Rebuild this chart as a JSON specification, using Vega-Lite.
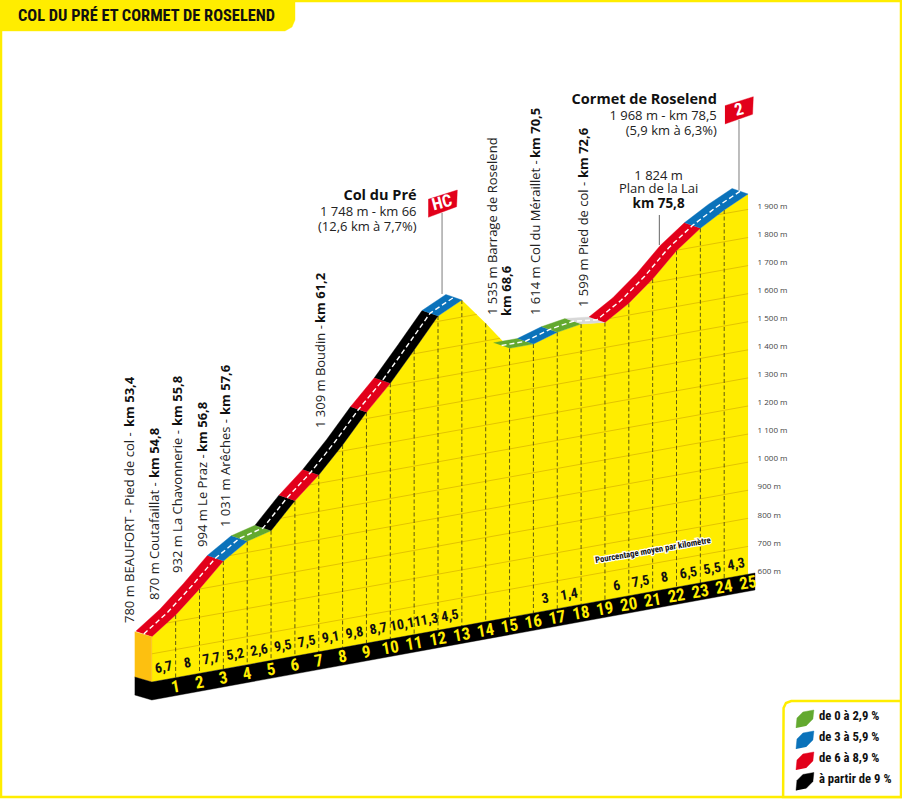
{"$schema":"https://vega.github.io/schema/vega-lite/v6.json","width":902,"height":800,"padding":0,"autosize":"none","background":"white","config":{"view":{"stroke":null}},
"datasets":{
"profil":[{"km":0,"alt":378.5,"base":217.2},{"km":1,"alt":455.8,"base":232.5},{"km":2,"alt":548.4,"base":247.8},{"km":3,"alt":648.1,"base":263.2},{"km":4,"alt":718.2,"base":278.5},{"km":5,"alt":756,"base":293.8},{"km":6,"alt":862.8,"base":309.1},{"km":7,"alt":954.3,"base":324.4},{"km":8,"alt":1061.2,"base":339.8},{"km":9,"alt":1177.6,"base":355.1},{"km":10,"alt":1280.9,"base":370.4},{"km":11,"alt":1399.4,"base":385.7},{"km":12,"alt":1520.5,"base":401},{"km":13,"alt":1577.5,"base":416.4},{"km":14,"alt":1494.5,"base":431.7},{"km":15,"alt":1405.5,"base":447},{"km":16,"alt":1420.8,"base":462.3},{"km":17,"alt":1462.5,"base":477.6},{"km":18,"alt":1492,"base":493},{"km":19,"alt":1497.4,"base":508.3},{"km":20,"alt":1565.8,"base":523.6},{"km":21,"alt":1652.3,"base":538.9},{"km":22,"alt":1753.1,"base":554.2},{"km":23,"alt":1832.8,"base":569.6},{"km":24,"alt":1898,"base":584.9},{"km":25,"alt":1955,"base":600}],
"grille":[{"s":"700","km":0,"alt":317.5},{"s":"700","km":25,"alt":700},{"s":"800","km":0.63,"alt":427.2},{"s":"800","km":25,"alt":800},{"s":"900","km":2,"alt":548.1},{"s":"900","km":25,"alt":900},{"s":"1000","km":3.28,"alt":667.7},{"s":"1000","km":25,"alt":1000},{"s":"1100","km":5.42,"alt":800.5},{"s":"1100","km":25,"alt":1100},{"s":"1200","km":6.61,"alt":918.8},{"s":"1200","km":25,"alt":1200},{"s":"1300","km":7.77,"alt":1036.5},{"s":"1300","km":25,"alt":1300},{"s":"1400","km":8.78,"alt":1152},{"s":"1400","km":25,"alt":1400},{"s":"1500","km":9.88,"alt":1268.9},{"s":"1500","km":25,"alt":1500},{"s":"1600a","km":10.87,"alt":1384},{"s":"1600a","km":14.6,"alt":1441.2},{"s":"1600b","km":19.21,"alt":1511.8},{"s":"1600b","km":25,"alt":1600},{"s":"1700a","km":11.82,"alt":1498.6},{"s":"1700a","km":13.62,"alt":1526.2},{"s":"1700b","km":20.82,"alt":1636.5},{"s":"1700b","km":25,"alt":1700},{"s":"1800","km":22.02,"alt":1754.9},{"s":"1800","km":25,"alt":1800},{"s":"1900","km":23.74,"alt":1881.2},{"s":"1900","km":25,"alt":1900}],
"centre":[{"s":"a","km":-0.335,"alt":388.3},{"s":"a","km":0.665,"alt":465.6},{"s":"a","km":1.665,"alt":558.2},{"s":"a","km":2.665,"alt":657.9},{"s":"a","km":3.665,"alt":728},{"s":"a","km":4.665,"alt":765.8},{"s":"a","km":5.665,"alt":872.6},{"s":"a","km":6.665,"alt":964.1},{"s":"a","km":7.665,"alt":1071},{"s":"a","km":8.665,"alt":1187.4},{"s":"a","km":9.665,"alt":1290.7},{"s":"a","km":10.665,"alt":1409.2},{"s":"a","km":11.665,"alt":1530.3},{"s":"a","km":12.665,"alt":1587.3},{"s":"b","km":14.665,"alt":1415.3},{"s":"b","km":15.665,"alt":1430.6},{"s":"b","km":16.665,"alt":1472.3},{"s":"b","km":17.665,"alt":1501.8},{"s":"b","km":18.665,"alt":1507.2},{"s":"b","km":19.665,"alt":1575.6},{"s":"b","km":20.665,"alt":1662.1},{"s":"b","km":21.665,"alt":1762.9},{"s":"b","km":22.665,"alt":1842.6},{"s":"b","km":23.665,"alt":1907.8},{"s":"b","km":24.665,"alt":1964.8}],
"cadre":[{"i":1,"km":6.004,"alt":2642.2},{"i":2,"km":31.413,"alt":2642.2},{"i":3,"km":31.413,"alt":-192.3},{"i":4,"km":-6.323,"alt":-192.3},{"i":5,"km":-6.323,"alt":2535.4}],
"boite":[{"i":1,"km":31.413,"alt":149.5},{"i":2,"km":26.81,"alt":149.5},{"i":3,"km":26.59,"alt":142.4},{"i":4,"km":26.49,"alt":124.6},{"i":5,"km":26.47,"alt":-192.3},{"i":6,"km":31.413,"alt":-192.3},{"i":7,"km":31.413,"alt":149.5}],
"poteaux":[{"km":12.17,"alt":1598.9,"haut":1887.3},{"km":24.62,"alt":1969.2,"haut":2218.5}],
"repere":[{"km":21.28,"alt":1773.4,"haut":1880.2}],
"formes":[
{"s":"s1","i":1,"km":0,"alt":378.5,"c":"de 6 à 8,9 %"},{"s":"s1","i":2,"km":1,"alt":455.8,"c":"de 6 à 8,9 %"},{"s":"s1","i":3,"km":2,"alt":548.4,"c":"de 6 à 8,9 %"},{"s":"s1","i":4,"km":3,"alt":648.1,"c":"de 6 à 8,9 %"},{"s":"s1","i":5,"km":2.33,"alt":667.7,"c":"de 6 à 8,9 %"},{"s":"s1","i":6,"km":1.33,"alt":568,"c":"de 6 à 8,9 %"},{"s":"s1","i":7,"km":0.33,"alt":475.4,"c":"de 6 à 8,9 %"},{"s":"s1","i":8,"km":-0.67,"alt":398.1,"c":"de 6 à 8,9 %"},
{"s":"s2","i":1,"km":3,"alt":648.1,"c":"de 3 à 5,9 %"},{"s":"s2","i":2,"km":4,"alt":718.2,"c":"de 3 à 5,9 %"},{"s":"s2","i":3,"km":3.33,"alt":737.8,"c":"de 3 à 5,9 %"},{"s":"s2","i":4,"km":2.33,"alt":667.7,"c":"de 3 à 5,9 %"},
{"s":"s3","i":1,"km":4,"alt":718.2,"c":"de 0 à 2,9 %"},{"s":"s3","i":2,"km":5,"alt":756,"c":"de 0 à 2,9 %"},{"s":"s3","i":3,"km":4.33,"alt":775.6,"c":"de 0 à 2,9 %"},{"s":"s3","i":4,"km":3.33,"alt":737.8,"c":"de 0 à 2,9 %"},
{"s":"s4","i":1,"km":5,"alt":756,"c":"à partir de 9 %"},{"s":"s4","i":2,"km":6,"alt":862.8,"c":"à partir de 9 %"},{"s":"s4","i":3,"km":5.33,"alt":882.4,"c":"à partir de 9 %"},{"s":"s4","i":4,"km":4.33,"alt":775.6,"c":"à partir de 9 %"},
{"s":"s5","i":1,"km":6,"alt":862.8,"c":"de 6 à 8,9 %"},{"s":"s5","i":2,"km":7,"alt":954.3,"c":"de 6 à 8,9 %"},{"s":"s5","i":3,"km":6.33,"alt":973.9,"c":"de 6 à 8,9 %"},{"s":"s5","i":4,"km":5.33,"alt":882.4,"c":"de 6 à 8,9 %"},
{"s":"s6","i":1,"km":7,"alt":954.3,"c":"à partir de 9 %"},{"s":"s6","i":2,"km":8,"alt":1061.2,"c":"à partir de 9 %"},{"s":"s6","i":3,"km":9,"alt":1177.6,"c":"à partir de 9 %"},{"s":"s6","i":4,"km":8.33,"alt":1197.2,"c":"à partir de 9 %"},{"s":"s6","i":5,"km":7.33,"alt":1080.8,"c":"à partir de 9 %"},{"s":"s6","i":6,"km":6.33,"alt":973.9,"c":"à partir de 9 %"},
{"s":"s7","i":1,"km":9,"alt":1177.6,"c":"de 6 à 8,9 %"},{"s":"s7","i":2,"km":10,"alt":1280.9,"c":"de 6 à 8,9 %"},{"s":"s7","i":3,"km":9.33,"alt":1300.5,"c":"de 6 à 8,9 %"},{"s":"s7","i":4,"km":8.33,"alt":1197.2,"c":"de 6 à 8,9 %"},
{"s":"s8","i":1,"km":10,"alt":1280.9,"c":"à partir de 9 %"},{"s":"s8","i":2,"km":11,"alt":1399.4,"c":"à partir de 9 %"},{"s":"s8","i":3,"km":12,"alt":1520.5,"c":"à partir de 9 %"},{"s":"s8","i":4,"km":11.33,"alt":1540.1,"c":"à partir de 9 %"},{"s":"s8","i":5,"km":10.33,"alt":1419,"c":"à partir de 9 %"},{"s":"s8","i":6,"km":9.33,"alt":1300.5,"c":"à partir de 9 %"},
{"s":"s9","i":1,"km":12,"alt":1520.5,"c":"de 3 à 5,9 %"},{"s":"s9","i":2,"km":13,"alt":1577.5,"c":"de 3 à 5,9 %"},{"s":"s9","i":3,"km":12.33,"alt":1597.1,"c":"de 3 à 5,9 %"},{"s":"s9","i":4,"km":11.33,"alt":1540.1,"c":"de 3 à 5,9 %"},
{"s":"s10","i":1,"km":15,"alt":1405.5,"c":"de 0 à 2,9 %"},{"s":"s10","i":2,"km":16,"alt":1420.8,"c":"de 0 à 2,9 %"},{"s":"s10","i":3,"km":15.33,"alt":1440.4,"c":"de 0 à 2,9 %"},{"s":"s10","i":4,"km":14.33,"alt":1425.1,"c":"de 0 à 2,9 %"},
{"s":"s11","i":1,"km":16,"alt":1420.8,"c":"de 3 à 5,9 %"},{"s":"s11","i":2,"km":17,"alt":1462.5,"c":"de 3 à 5,9 %"},{"s":"s11","i":3,"km":16.33,"alt":1482.1,"c":"de 3 à 5,9 %"},{"s":"s11","i":4,"km":15.33,"alt":1440.4,"c":"de 3 à 5,9 %"},
{"s":"s12","i":1,"km":17,"alt":1462.5,"c":"de 0 à 2,9 %"},{"s":"s12","i":2,"km":18,"alt":1492,"c":"de 0 à 2,9 %"},{"s":"s12","i":3,"km":17.33,"alt":1511.6,"c":"de 0 à 2,9 %"},{"s":"s12","i":4,"km":16.33,"alt":1482.1,"c":"de 0 à 2,9 %"},
{"s":"s13","i":1,"km":18,"alt":1492,"c":"replat"},{"s":"s13","i":2,"km":19,"alt":1497.4,"c":"replat"},{"s":"s13","i":3,"km":18.33,"alt":1517,"c":"replat"},{"s":"s13","i":4,"km":17.33,"alt":1511.6,"c":"replat"},
{"s":"s14","i":1,"km":19,"alt":1497.4,"c":"de 6 à 8,9 %"},{"s":"s14","i":2,"km":20,"alt":1565.8,"c":"de 6 à 8,9 %"},{"s":"s14","i":3,"km":21,"alt":1652.3,"c":"de 6 à 8,9 %"},{"s":"s14","i":4,"km":22,"alt":1753.1,"c":"de 6 à 8,9 %"},{"s":"s14","i":5,"km":23,"alt":1832.8,"c":"de 6 à 8,9 %"},{"s":"s14","i":6,"km":22.33,"alt":1852.4,"c":"de 6 à 8,9 %"},{"s":"s14","i":7,"km":21.33,"alt":1772.7,"c":"de 6 à 8,9 %"},{"s":"s14","i":8,"km":20.33,"alt":1671.9,"c":"de 6 à 8,9 %"},{"s":"s14","i":9,"km":19.33,"alt":1585.4,"c":"de 6 à 8,9 %"},{"s":"s14","i":10,"km":18.33,"alt":1517,"c":"de 6 à 8,9 %"},
{"s":"s15","i":1,"km":23,"alt":1832.8,"c":"de 3 à 5,9 %"},{"s":"s15","i":2,"km":24,"alt":1898,"c":"de 3 à 5,9 %"},{"s":"s15","i":3,"km":25,"alt":1955,"c":"de 3 à 5,9 %"},{"s":"s15","i":4,"km":24.33,"alt":1974.6,"c":"de 3 à 5,9 %"},{"s":"s15","i":5,"km":23.33,"alt":1917.6,"c":"de 3 à 5,9 %"},{"s":"s15","i":6,"km":22.33,"alt":1852.4,"c":"de 3 à 5,9 %"},
{"s":"flanc","i":1,"km":-0.717,"alt":396.3,"c":"flanc"},{"s":"flanc","i":2,"km":0,"alt":378.5,"c":"flanc"},{"s":"flanc","i":3,"km":0,"alt":217.2,"c":"flanc"},{"s":"flanc","i":4,"km":-0.717,"alt":235,"c":"flanc"},
{"s":"socle","i":1,"km":-0.717,"alt":235,"c":"socle"},{"s":"socle","i":2,"km":0,"alt":217.2,"c":"socle"},{"s":"socle","i":3,"km":25.29,"alt":605.3,"c":"socle"},{"s":"socle","i":4,"km":25.29,"alt":544.8,"c":"socle"},{"s":"socle","i":5,"km":0,"alt":153.1,"c":"socle"},{"s":"socle","i":6,"km":-0.717,"alt":171,"c":"socle"},
{"s":"f1","i":1,"km":11.59,"alt":1936.1,"c":"drapeau"},{"s":"f1","i":2,"km":12.81,"alt":1969.2,"c":"drapeau"},{"s":"f1","i":3,"km":12.78,"alt":1909.8,"c":"drapeau"},{"s":"f1","i":4,"km":11.59,"alt":1872,"c":"drapeau"},
{"s":"f2","i":1,"km":24.03,"alt":2269.4,"c":"drapeau"},{"s":"f2","i":2,"km":25.22,"alt":2301.4,"c":"drapeau"},{"s":"f2","i":3,"km":25.19,"alt":2238.8,"c":"drapeau"},{"s":"f2","i":4,"km":24.03,"alt":2204.2,"c":"drapeau"},
{"s":"onglet","i":1,"km":-6.365,"alt":2645.8,"c":"onglet"},{"s":"onglet","i":2,"km":6.004,"alt":2645.8,"c":"onglet"},{"s":"onglet","i":3,"km":6.004,"alt":2574.6,"c":"onglet"},{"s":"onglet","i":4,"km":5.878,"alt":2549.7,"c":"onglet"},{"s":"onglet","i":5,"km":5.585,"alt":2535.4,"c":"onglet"},{"s":"onglet","i":6,"km":-6.365,"alt":2535.4,"c":"onglet"},
{"s":"l1","i":1,"km":27.01,"alt":53.4,"c":"de 0 à 2,9 %"},{"s":"l1","i":2,"km":27.05,"alt":89,"c":"de 0 à 2,9 %"},{"s":"l1","i":3,"km":27.3,"alt":110.4,"c":"de 0 à 2,9 %"},{"s":"l1","i":4,"km":27.76,"alt":117.5,"c":"de 0 à 2,9 %"},{"s":"l1","i":5,"km":27.72,"alt":85.5,"c":"de 0 à 2,9 %"},{"s":"l1","i":6,"km":27.43,"alt":60.5,"c":"de 0 à 2,9 %"},
{"s":"l2","i":1,"km":27.01,"alt":-21.4,"c":"de 3 à 5,9 %"},{"s":"l2","i":2,"km":27.05,"alt":14.2,"c":"de 3 à 5,9 %"},{"s":"l2","i":3,"km":27.3,"alt":35.6,"c":"de 3 à 5,9 %"},{"s":"l2","i":4,"km":27.76,"alt":42.7,"c":"de 3 à 5,9 %"},{"s":"l2","i":5,"km":27.72,"alt":10.7,"c":"de 3 à 5,9 %"},{"s":"l2","i":6,"km":27.43,"alt":-14.3,"c":"de 3 à 5,9 %"},
{"s":"l3","i":1,"km":27.01,"alt":-96.1,"c":"de 6 à 8,9 %"},{"s":"l3","i":2,"km":27.05,"alt":-60.5,"c":"de 6 à 8,9 %"},{"s":"l3","i":3,"km":27.3,"alt":-39.1,"c":"de 6 à 8,9 %"},{"s":"l3","i":4,"km":27.76,"alt":-32,"c":"de 6 à 8,9 %"},{"s":"l3","i":5,"km":27.72,"alt":-64,"c":"de 6 à 8,9 %"},{"s":"l3","i":6,"km":27.43,"alt":-89,"c":"de 6 à 8,9 %"},
{"s":"l4","i":1,"km":27.01,"alt":-169.1,"c":"à partir de 9 %"},{"s":"l4","i":2,"km":27.05,"alt":-133.5,"c":"à partir de 9 %"},{"s":"l4","i":3,"km":27.3,"alt":-112.1,"c":"à partir de 9 %"},{"s":"l4","i":4,"km":27.76,"alt":-105,"c":"à partir de 9 %"},{"s":"l4","i":5,"km":27.72,"alt":-137,"c":"à partir de 9 %"},{"s":"l4","i":6,"km":27.43,"alt":-162,"c":"à partir de 9 %"}
],
"kmlabels":[{"t":"1","km":1,"alt":198.3},{"t":"2","km":2,"alt":213.7},{"t":"3","km":3,"alt":229.1},{"t":"4","km":4,"alt":244.6},{"t":"5","km":5,"alt":260},{"t":"6","km":6,"alt":275.4},{"t":"7","km":7,"alt":290.8},{"t":"8","km":8,"alt":306.3},{"t":"9","km":9,"alt":321.7},{"t":"10","km":10,"alt":337.1},{"t":"11","km":11,"alt":352.5},{"t":"12","km":12,"alt":367.9},{"t":"13","km":13,"alt":383.4},{"t":"14","km":14,"alt":398.8},{"t":"15","km":15,"alt":414.2},{"t":"16","km":16,"alt":429.6},{"t":"17","km":17,"alt":445},{"t":"18","km":18,"alt":460.5},{"t":"19","km":19,"alt":475.9},{"t":"20","km":20,"alt":491.3},{"t":"21","km":21,"alt":506.7},{"t":"22","km":22,"alt":522.1},{"t":"23","km":23,"alt":537.6},{"t":"24","km":24,"alt":553},{"t":"25","km":25,"alt":568.4}],
"pentes":[{"t":"6,7","km":0.5,"alt":268.1},{"t":"8","km":1.5,"alt":283.4},{"t":"7,7","km":2.5,"alt":298.7},{"t":"5,2","km":3.5,"alt":314},{"t":"2,6","km":4.5,"alt":329.3},{"t":"9,5","km":5.5,"alt":344.5},{"t":"7,5","km":6.5,"alt":359.8},{"t":"9,1","km":7.5,"alt":375.1},{"t":"9,8","km":8.5,"alt":390.4},{"t":"8,7","km":9.5,"alt":405.7},{"t":"10,1","km":10.5,"alt":420.9},{"t":"11,3","km":11.5,"alt":436.2},{"t":"4,5","km":12.5,"alt":451.5},{"t":"3","km":16.5,"alt":512.6},{"t":"1,4","km":17.5,"alt":527.9},{"t":"6","km":19.5,"alt":558.5},{"t":"7,5","km":20.5,"alt":573.7},{"t":"8","km":21.5,"alt":589},{"t":"6,5","km":22.5,"alt":604.3},{"t":"5,5","km":23.5,"alt":619.6},{"t":"4,3","km":24.5,"alt":634.9}],
"altitudes":[{"t":"600 m","km":25.4,"alt":610},{"t":"700 m","km":25.4,"alt":710},{"t":"800 m","km":25.4,"alt":810},{"t":"900 m","km":25.4,"alt":910},{"t":"1 000 m","km":25.4,"alt":1010},{"t":"1 100 m","km":25.4,"alt":1110},{"t":"1 200 m","km":25.4,"alt":1210},{"t":"1 300 m","km":25.4,"alt":1310},{"t":"1 400 m","km":25.4,"alt":1410},{"t":"1 500 m","km":25.4,"alt":1510},{"t":"1 600 m","km":25.4,"alt":1610},{"t":"1 700 m","km":25.4,"alt":1710},{"t":"1 800 m","km":25.4,"alt":1810},{"t":"1 900 m","km":25.4,"alt":1910}],
"vertReg":[{"t":"780 m BEAUFORT - Pied de col - ","km":-0.914,"alt":427.3},{"t":"870 m Coutafaillat - ","km":0.134,"alt":509.2},{"t":"932 m La Chavonnerie - ","km":1.099,"alt":605.4},{"t":"994 m Le Praz - ","km":2.126,"alt":698},{"t":"1 031 m Arêches - ","km":3.111,"alt":769.2},{"t":"1 309 m Boudin - ","km":7.094,"alt":1121.7},{"t":"1 535 m Barrage de Roselend","km":14.306,"alt":1524.1},{"t":"1 614 m Col du Méraillet - ","km":16.109,"alt":1524.1},{"t":"1 599 m Pied de col - ","km":18.121,"alt":1552.6}],
"vertBold":[{"t":"km 53,4","km":-0.914,"alt":1125.3},{"t":"km 54,8","km":0.134,"alt":943.6},{"t":"km 55,8","km":1.099,"alt":1128.8},{"t":"km 56,8","km":2.126,"alt":1036.2},{"t":"km 57,6","km":3.111,"alt":1168},{"t":"km 61,2","km":7.094,"alt":1495.6},{"t":"km 68,6","km":14.893,"alt":1520.5},{"t":"km 70,5","km":16.109,"alt":2083.2},{"t":"km 72,6","km":18.121,"alt":2011.9}],
"droiteReg":[{"t":"1 748 m - km 66","km":11.1,"alt":1890.9},{"t":"(12,6 km à 7,7%)","km":11.1,"alt":1837.4},{"t":"1 968 m - km 78,5","km":23.69,"alt":2233.8},{"t":"(5,9 km à 6,3%)","km":23.69,"alt":2179.3}],
"droiteBold":[{"t":"Col du Pré","km":11.1,"alt":1949.6},{"t":"Cormet de Roselend","km":23.69,"alt":2289.7}],
"centreReg":[{"t":"1 824 m","km":21.25,"alt":2020.1},{"t":"Plan de la Lai","km":21.25,"alt":1972.8}],
"centreBold":[{"t":"km 75,8","km":21.25,"alt":1919.4}],
"legende":[{"t":"de 0 à 2,9 %","km":27.97,"alt":96.1},{"t":"de 3 à 5,9 %","km":27.97,"alt":22.4},{"t":"de 6 à 8,9 %","km":27.97,"alt":-52.4},{"t":"à partir de 9 %","km":27.97,"alt":-127.2}],
"drapeaux":[{"t":"HC","km":12.17,"alt":1922.9},{"t":"2","km":24.62,"alt":2254.1}],
"titre":[{"t":"COL DU PRÉ ET CORMET DE ROSELEND","km":-5.61,"alt":2588.8}],
"note":[{"t":"Pourcentage moyen par kilomètre","km":21.01,"alt":687.3}]
},
"encoding":{
"x":{"field":"km","type":"quantitative","scale":{"domain":[-6.365,31.455],"nice":false,"zero":false},"axis":null},
"y":{"field":"alt","type":"quantitative","scale":{"domain":[-203,2645.8],"nice":false,"zero":false},"axis":null}
},
"layer":[
{"data":{"name":"cadre"},"mark":{"type":"line","stroke":"#FFED00","strokeWidth":2.5},"encoding":{"order":{"field":"i"}}},
{"data":{"name":"boite"},"mark":{"type":"line","stroke":"#FFED00","strokeWidth":2.5,"fill":"white"},"encoding":{"order":{"field":"i"}}},
{"data":{"name":"profil"},"mark":{"type":"area","color":"#FFED00"},"encoding":{"y2":{"field":"base"}}},
{"data":{"name":"grille"},"mark":{"type":"line","stroke":"#E3C400","strokeWidth":1},"encoding":{"detail":{"field":"s"}}},
{"data":{"name":"profil"},"transform":[{"filter":"datum.km>=1 && datum.km<=24"}],"mark":{"type":"rule","stroke":"#4d4a10","strokeWidth":0.9,"strokeDash":[4,2.5]},"encoding":{"y2":{"field":"base"}}},
{"data":{"name":"poteaux"},"mark":{"type":"rule","stroke":"#9a9a9a","strokeWidth":1.3},"encoding":{"y2":{"field":"haut"}}},
{"data":{"name":"repere"},"mark":{"type":"rule","stroke":"#666666","strokeWidth":1},"encoding":{"y2":{"field":"haut"}}},
{"data":{"name":"formes"},"mark":{"type":"line","strokeWidth":0.4},"encoding":{"detail":{"field":"s"},"order":{"field":"i"},
"fill":{"field":"c","type":"nominal","legend":null,"scale":{"domain":["de 0 à 2,9 %","de 3 à 5,9 %","de 6 à 8,9 %","à partir de 9 %","replat","flanc","socle","drapeau","onglet"],"range":["#63A92F","#0A72BA","#E2001A","#000000","#D8D8D8","#FDC010","#000000","#E2001A","#FFED00"]}},
"stroke":{"field":"c","type":"nominal","legend":null,"scale":{"domain":["de 0 à 2,9 %","de 3 à 5,9 %","de 6 à 8,9 %","à partir de 9 %","replat","flanc","socle","drapeau","onglet"],"range":["#63A92F","#0A72BA","#E2001A","#000000","#D8D8D8","#FDC010","#000000","#E2001A","#FFED00"]}}}},
{"data":{"name":"centre"},"mark":{"type":"line","stroke":"white","strokeWidth":1.4,"strokeDash":[5,3]},"encoding":{"detail":{"field":"s"}}},
{"data":{"name":"kmlabels"},"mark":{"type":"text","font":"Roboto Condensed, Noto Sans Condensed, Roboto","fontWeight":"bold","fontSize":17,"angle":350,"color":"#FFED00","baseline":"middle"},"encoding":{"text":{"field":"t"}}},
{"data":{"name":"pentes"},"mark":{"type":"text","font":"Roboto Condensed, Noto Sans Condensed, Roboto","fontWeight":"bold","fontSize":14,"angle":350,"color":"#111","baseline":"middle"},"encoding":{"text":{"field":"t"}}},
{"data":{"name":"altitudes"},"mark":{"type":"text","font":"Open Sans","fontSize":8,"color":"#444","align":"left","baseline":"middle"},"encoding":{"text":{"field":"t"}}},
{"data":{"name":"vertReg"},"mark":{"type":"text","font":"Open Sans","fontSize":13,"color":"#222","angle":270,"align":"left","baseline":"middle"},"encoding":{"text":{"field":"t"}}},
{"data":{"name":"vertBold"},"mark":{"type":"text","font":"Open Sans","fontWeight":"bold","fontSize":13,"color":"#111","angle":270,"align":"left","baseline":"middle"},"encoding":{"text":{"field":"t"}}},
{"data":{"name":"droiteReg"},"mark":{"type":"text","font":"Open Sans","fontSize":13,"color":"#222","align":"right","baseline":"middle"},"encoding":{"text":{"field":"t"}}},
{"data":{"name":"droiteBold"},"mark":{"type":"text","font":"Open Sans","fontWeight":"bold","fontSize":14.5,"color":"#111","align":"right","baseline":"middle"},"encoding":{"text":{"field":"t"}}},
{"data":{"name":"centreReg"},"mark":{"type":"text","font":"Open Sans","fontSize":13,"color":"#222","align":"center","baseline":"middle"},"encoding":{"text":{"field":"t"}}},
{"data":{"name":"centreBold"},"mark":{"type":"text","font":"Open Sans","fontWeight":"bold","fontSize":13.5,"color":"#111","align":"center","baseline":"middle"},"encoding":{"text":{"field":"t"}}},
{"data":{"name":"legende"},"mark":{"type":"text","font":"Roboto Condensed, Noto Sans Condensed, Roboto","fontWeight":"bold","fontSize":12.7,"color":"#111","align":"left","baseline":"middle"},"encoding":{"text":{"field":"t"}}},
{"data":{"name":"drapeaux"},"mark":{"type":"text","font":"Roboto Condensed, Noto Sans Condensed, Roboto","fontWeight":"bold","fontSize":17,"color":"white","angle":345,"baseline":"middle"},"encoding":{"text":{"field":"t"}}},
{"data":{"name":"titre"},"mark":{"type":"text","font":"Roboto Condensed, Noto Sans Condensed, Roboto","fontWeight":"bold","fontSize":16.4,"color":"#111","align":"left","baseline":"middle"},"encoding":{"text":{"field":"t"}}},
{"data":{"name":"note"},"mark":{"type":"text","font":"Roboto Condensed, Noto Sans Condensed, Roboto","fontWeight":"bold","fontSize":8.7,"stroke":"white","strokeWidth":2.5,"angle":350,"baseline":"middle"},"encoding":{"text":{"field":"t"}}},
{"data":{"name":"note"},"mark":{"type":"text","font":"Roboto Condensed, Noto Sans Condensed, Roboto","fontWeight":"bold","fontSize":8.7,"color":"#111","angle":350,"baseline":"middle"},"encoding":{"text":{"field":"t"}}}
]}
